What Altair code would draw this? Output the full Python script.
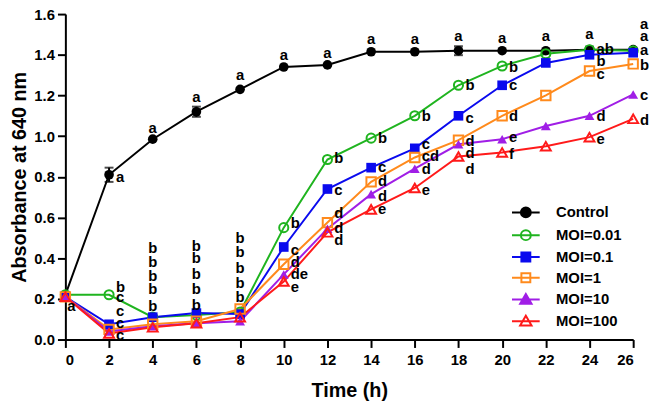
import altair as alt
import pandas as pd

times = [0, 2, 4, 6, 8, 10, 12, 14, 16, 18, 20, 22, 24, 26]
series_names = ["Control", "MOI=0.01", "MOI=0.1", "MOI=1", "MOI=10", "MOI=100"]

control = [0.22, 0.81, 0.985, 1.12, 1.23, 1.34, 1.35, 1.415, 1.415, 1.42, 1.42, 1.42, 1.425, 1.425]
moi_001 = [0.22, 0.22, 0.11, 0.12, 0.135, 0.55, 0.885, 0.99, 1.10, 1.25, 1.345, 1.405, 1.425, 1.42]
moi_01 = [0.21, 0.075, 0.11, 0.13, 0.125, 0.455, 0.74, 0.845, 0.94, 1.10, 1.25, 1.36, 1.40, 1.41]
moi_1 = [0.21, 0.05, 0.075, 0.09, 0.15, 0.37, 0.575, 0.775, 0.895, 0.98, 1.10, 1.20, 1.32, 1.355]
moi_10 = [0.21, 0.04, 0.065, 0.08, 0.09, 0.32, 0.545, 0.715, 0.84, 0.96, 0.985, 1.05, 1.10, 1.205]
moi_100 = [0.21, 0.03, 0.06, 0.08, 0.11, 0.285, 0.527, 0.64, 0.745, 0.90, 0.92, 0.95, 0.995, 1.085]
series_values = [control, moi_001, moi_01, moi_1, moi_10, moi_100]

control_err = [0, 0.035, 0, 0.025, 0, 0, 0, 0, 0, 0.022, 0, 0, 0, 0]
moi_001_err = [0, 0, 0, 0, 0, 0, 0, 0, 0, 0, 0, 0, 0.015, 0]
zero_err = [0] * 14
series_err = [control_err, moi_001_err, zero_err, zero_err, zero_err, zero_err]

colors = ["#000000", "#1fb41f", "#0a0aee", "#ff8a1c", "#a01ee6", "#ff1a1a"]
fills = ["#000000", "transparent", "#0a0aee", "transparent", "#a01ee6", "transparent"]
shapes = ["circle", "circle", "square", "square", "triangle-up", "triangle-up"]
filled = [True, False, True, False, True, False]
sizes = [95, 85, 95, 90, 100, 100]

legend_paths = [
    "M-2.8,0L2.8,0M1,0A1,1,0,1,1,-1,0A1,1,0,1,1,1,0Z",
    "M-2.8,0L2.8,0M1,0A1,1,0,1,1,-1,0A1,1,0,1,1,1,0Z",
    "M-2.8,0L2.8,0M-0.9,-0.9L0.9,-0.9L0.9,0.9L-0.9,0.9Z",
    "M-2.8,0L2.8,0M-0.9,-0.9L0.9,-0.9L0.9,0.9L-0.9,0.9Z",
    "M-2.8,0L2.8,0M0,-1.1L1.15,0.85L-1.15,0.85Z",
    "M-2.8,0L2.8,0M0,-1.1L1.15,0.85L-1.15,0.85Z",
]

# letters placed to the right of points
ann_r_time = [2, 2, 2, 2, 2, 2,
              10, 10, 10, 10, 10,
              12, 12, 12, 12, 12,
              14, 14, 14, 14, 14,
              16, 16, 16, 16, 16,
              18, 18, 18, 18, 18,
              20, 20, 20, 20, 20,
              24, 24, 24, 24, 24,
              26, 26, 26, 26, 26, 26]
ann_r_val = [0.80, 0.26, 0.21, 0.14, 0.08, 0.02,
             0.575, 0.44, 0.38, 0.32, 0.26,
             0.89, 0.735, 0.62, 0.55, 0.49,
             0.99, 0.85, 0.78, 0.705, 0.64,
             1.10, 0.96, 0.90, 0.84, 0.735,
             1.25, 1.09, 0.975, 0.915, 0.84,
             1.34, 1.25, 1.10, 0.995, 0.91,
             1.43, 1.37, 1.305, 1.10, 0.985,
             1.55, 1.49, 1.425, 1.35, 1.20, 1.08]
ann_r_text = ["a", "b", "c", "c", "c", "c",
              "b", "c", "d", "de", "e",
              "b", "c", "d", "d", "d",
              "b", "c", "d", "d", "e",
              "b", "c", "cd", "d", "e",
              "b", "c", "d", "d", "d",
              "b", "c", "d", "e", "f",
              "ab", "b", "c", "d", "e",
              "a", "a", "a", "b", "c", "d"]

# letters centered above points
ann_c_time = [4, 6, 8, 10, 12, 14, 16, 18, 20, 22, 24,
              4, 4, 4, 4, 4,
              6, 6, 6, 6, 6,
              8, 8, 8, 8, 8]
ann_c_val = [1.04, 1.19, 1.30, 1.40, 1.41, 1.475, 1.475, 1.49, 1.48, 1.49, 1.50,
             0.45, 0.38, 0.31, 0.25, 0.165,
             0.46, 0.40, 0.32, 0.25, 0.17,
             0.50, 0.43, 0.35, 0.28, 0.21]
ann_c_text = ["a"] * 11 + ["b"] * 15

# letter below the t=0 point
ann_b_time = [0]
ann_b_val = [0.165]
ann_b_text = ["a"]

rows = []
for name, vals, errs in zip(series_names, series_values, series_err):
    for t, v, e in zip(times, vals, errs):
        rows.append({"time": t, "value": v, "series": name, "lo": v - e, "hi": v + e, "err": e})
df = pd.DataFrame(rows)

FONT = "Liberation Sans"
xscale = alt.Scale(domain=[0, 26], nice=False)
yscale = alt.Scale(domain=[0, 1.6], nice=False)
X = alt.X("time:Q", scale=xscale,
          axis=alt.Axis(title="Time (h)", values=list(range(0, 27, 2)), titleY=58,
                        titleBaseline="alphabetic", labelPadding=5))
Y = alt.Y("value:Q", scale=yscale,
          axis=alt.Axis(title="Absorbance at 640 nm", values=[0, 0.2, 0.4, 0.6, 0.8, 1.0, 1.2, 1.4, 1.6],
                        format=".1f", titleX=-56, titleBaseline="top"))

base = alt.Chart(df)
layers = []
for name, col in zip(series_names, colors):
    layers.append(base.transform_filter(alt.datum.series == name)
                  .mark_line(color=col, strokeWidth=2).encode(x=X, y=Y))

err_df = df[df["err"] > 0]
layers.append(alt.Chart(err_df).mark_rule(strokeWidth=2).encode(
    x="time:Q", y="lo:Q", y2="hi:Q",
    color=alt.value("black")))
layers.append(alt.Chart(err_df).mark_tick(orient="horizontal", thickness=2, size=9).encode(
    x="time:Q", y="lo:Q", color=alt.value("black")))
layers.append(alt.Chart(err_df).mark_tick(orient="horizontal", thickness=2, size=9).encode(
    x="time:Q", y="hi:Q", color=alt.value("black")))

for name, col, shp, fl, sz in zip(series_names, colors, shapes, filled, sizes):
    layers.append(base.transform_filter(alt.datum.series == name)
                  .mark_point(shape=shp, filled=fl, color=col, size=sz, strokeWidth=2, opacity=1)
                  .encode(x=X, y=Y))

ann_r = pd.DataFrame({"time": ann_r_time, "value": ann_r_val, "label": ann_r_text})
ann_c = pd.DataFrame({"time": ann_c_time, "value": ann_c_val, "label": ann_c_text})
ann_b = pd.DataFrame({"time": ann_b_time, "value": ann_b_val, "label": ann_b_text})
txt = dict(font=FONT, fontWeight="bold", fontSize=15, color="black", baseline="middle")
layers.append(alt.Chart(ann_r).mark_text(align="left", dx=7, **txt).encode(x="time:Q", y="value:Q", text="label:N"))
layers.append(alt.Chart(ann_c).mark_text(align="center", dx=0, **txt).encode(x="time:Q", y="value:Q", text="label:N"))
layers.append(alt.Chart(ann_b).mark_text(align="left", dx=2, **txt).encode(x="time:Q", y="value:Q", text="label:N"))

leg = alt.Legend(title=None, orient="none", legendX=458, legendY=193)
layers.append(base.transform_filter("false").mark_point(filled=False, strokeWidth=2, opacity=1).encode(
    color=alt.Color("series:N", scale=alt.Scale(domain=series_names, range=colors), legend=leg),
    fill=alt.Fill("series:N", scale=alt.Scale(domain=series_names, range=fills), legend=leg),
    shape=alt.Shape("series:N", scale=alt.Scale(domain=series_names, range=legend_paths), legend=leg),
))

chart = alt.layer(*layers).properties(
    width=574, height=329,
    autosize=alt.AutoSizeParams(type="none"),
    padding={"left": 58, "top": 4, "right": 16, "bottom": 62},
).configure_view(stroke=None).configure_axis(
    grid=False, domainColor="black", domainWidth=2, tickColor="black", tickWidth=2, tickSize=8,
    labelFont=FONT, labelFontWeight="bold", labelFontSize=15, labelColor="black", labelPadding=3,
    titleFont=FONT, titleFontWeight="bold", titleFontSize=20, titleColor="black",
).configure_legend(
    labelFont=FONT, labelFontWeight="bold", labelFontSize=15, labelColor="black",
    symbolSize=100, symbolStrokeWidth=2, labelOffset=23, rowPadding=4, padding=0,
    symbolOpacity=1,
)

chart.save("out.html", embed_options={"renderer": "svg", "actions": False})
